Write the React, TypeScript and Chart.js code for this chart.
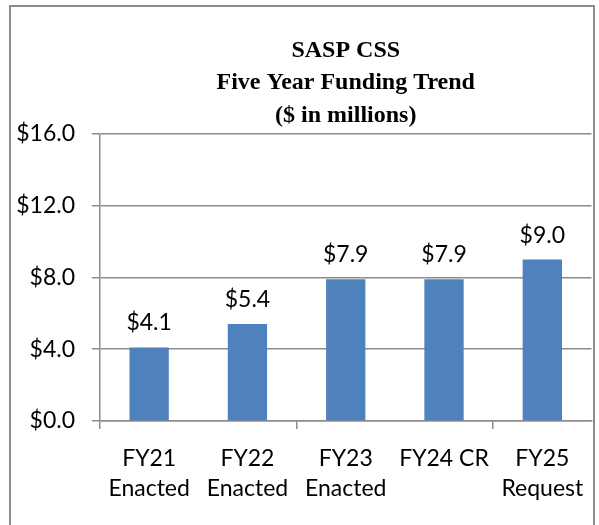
import React, { useEffect, useRef } from "react";
import { Chart, registerables } from "chart.js";

Chart.register(...registerables);

const categories: string[][] = [
  ["FY21", "Enacted"],
  ["FY22", "Enacted"],
  ["FY23", "Enacted"],
  ["FY24 CR"],
  ["FY25", "Request"],
];
const funding: number[] = [4.1, 5.4, 7.9, 7.9, 9.0];
const yTicks: number[] = [0, 4, 8, 12, 16];
const titleLines: string[] = ["SASP CSS", "Five Year Funding Trend", "($ in millions)"];

const FONT = "Lato, 'Noto Sans', sans-serif";

const borderPlugin = {
  id: "frameBorder",
  beforeDraw(chart: any) {
    const ctx = chart.ctx;
    ctx.save();
    ctx.fillStyle = "#ffffff";
    ctx.fillRect(0, 0, chart.width, chart.height);
    ctx.strokeStyle = "#8c8c8c";
    ctx.lineWidth = 2;
    ctx.strokeRect(10, 6, 584, 540);
    ctx.restore();
  },
};

const valueLabelPlugin = {
  id: "valueLabels",
  afterDatasetsDraw(chart: any) {
    const ctx = chart.ctx;
    const meta = chart.getDatasetMeta(0);
    const data = chart.data.datasets[0].data as number[];
    ctx.save();
    ctx.font = `23px ${FONT}`;
    ctx.fillStyle = "#000000";
    ctx.textAlign = "center";
    ctx.textBaseline = "alphabetic";
    meta.data.forEach((bar: any, i: number) => {
      ctx.fillText("$" + data[i].toFixed(1), bar.x, bar.y - 17);
    });
    ctx.restore();
  },
};

export default function App() {
  const canvasRef = useRef<HTMLCanvasElement | null>(null);

  useEffect(() => {
    if (!canvasRef.current) return;
    const chart = new Chart(canvasRef.current, {
      type: "bar",
      data: {
        labels: categories,
        datasets: [
          {
            data: funding,
            backgroundColor: "#4F81BD",
            borderWidth: 0,
            categoryPercentage: 1,
            barPercentage: 0.4,
          },
        ],
      },
      options: {
        responsive: false,
        animation: false,
        devicePixelRatio: 1,
        layout: { padding: { left: 0, right: 6, top: 10, bottom: 0 } },
        plugins: {
          legend: { display: false },
          tooltip: { enabled: false },
          title: {
            display: true,
            text: titleLines,
            fullSize: false,
            color: "#000000",
            font: { family: "'Liberation Serif', 'Times New Roman', serif", size: 24, weight: "bold", lineHeight: 1.36 },
            padding: { top: 24, bottom: 2 },
          },
        },
        scales: {
          x: {
            offset: true,
            grid: {
              offset: true,
              drawOnChartArea: false,
              drawTicks: true,
              tickLength: 8,
              color: (ctx: any) => (ctx.index % 2 === 0 ? "#8c8c8c" : "rgba(0,0,0,0)"),
              lineWidth: 1.5,
            },
            border: { display: true, color: "#8c8c8c", width: 1.5 },
            ticks: {
              autoSkip: false,
              maxRotation: 0,
              color: "#000000",
              font: { family: FONT, size: 23, lineHeight: 1.3 },
              padding: 15,
            },
            afterFit(scale: any) {
              scale.height = 104;
            },
          },
          y: {
            min: 0,
            max: 16,
            afterBuildTicks(scale: any) {
              scale.ticks = yTicks.map((v) => ({ value: v }));
            },
            grid: {
              color: "#8c8c8c",
              lineWidth: 1.5,
              tickLength: 8,
            },
            border: { display: true, color: "#8c8c8c", width: 1.5 },
            ticks: {
              color: "#000000",
              font: { family: FONT, size: 23 },
              padding: 17,
              callback: (v: any) => "$" + Number(v).toFixed(1),
            },
            afterFit(scale: any) {
              scale.width = 100;
            },
          },
        },
      },
      plugins: [borderPlugin, valueLabelPlugin],
    });
    return () => chart.destroy();
  }, []);

  return (
    <div style={{ position: "absolute", left: 0, top: 0, width: 599, height: 525 }}>
      <canvas ref={canvasRef} width={599} height={525} style={{ display: "block" }} />
    </div>
  );
}
